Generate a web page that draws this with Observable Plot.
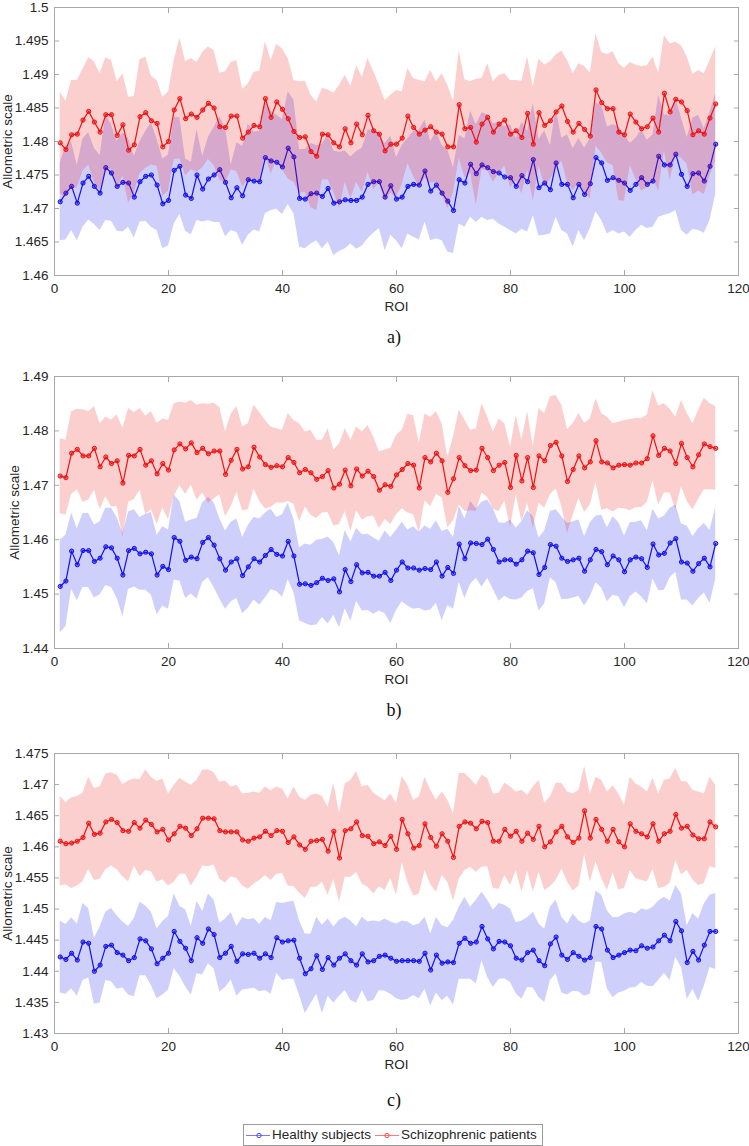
<!DOCTYPE html>
<html><head><meta charset="utf-8">
<script src="https://cdn.jsdelivr.net/npm/d3@7"></script>
<script src="https://cdn.jsdelivr.net/npm/@observablehq/plot@0.6"></script>
<style>
body{margin:0;background:#fff;}
#wrap{position:relative;width:749px;height:1146px;overflow:hidden;font-family:"Liberation Sans",Arial,sans-serif;background:#fff;}
.panel{position:absolute;left:0;}
.cap{position:absolute;left:0;width:788px;text-align:center;font-family:"Liberation Serif","Times New Roman",serif;font-size:18px;line-height:20px;color:#111;}
#legend{position:absolute;left:243px;top:1124px;width:298px;height:20px;border:1px solid #9a9a9a;background:#fff;font-size:13.5px;color:#262626;}
#legend span{position:absolute;top:2px;white-space:nowrap;}
#legend svg{position:absolute;top:0;}
</style></head>
<body><div id="wrap">
<div id="pa" class="panel" style="top:0px"></div>
<div class="cap" style="top:327px">a)</div>
<div id="pb" class="panel" style="top:360px"></div>
<div class="cap" style="top:700px">b)</div>
<div id="pc" class="panel" style="top:735px"></div>
<div class="cap" style="top:1090px">c)</div>
<div id="legend">
<svg width="26" height="20" style="left:2px"><line x1="0" x2="24" y1="10.5" y2="10.5" stroke="#7a7aff" stroke-width="1"/><circle cx="13" cy="10.5" r="2.2" fill="none" stroke="#4a4aff"/></svg>
<span style="left:28px">Healthy subjects</span>
<svg width="26" height="20" style="left:131px"><line x1="0" x2="24" y1="10.5" y2="10.5" stroke="#ff7a7a" stroke-width="1"/><circle cx="12" cy="10.5" r="2.2" fill="none" stroke="#ff4a4a"/></svg>
<span style="left:157px">Schizophrenic patients</span>
</div>
</div>
<script>
const BLUE = "#1010f0", RED = "#f01010";
const roi = d3.range(1, 117);
const xTicks = [0, 20, 40, 60, 80, 100, 120];
const yTicksA = [1.46, 1.465, 1.47, 1.475, 1.48, 1.485, 1.49, 1.495, 1.5];
const yTicksB = [1.44, 1.45, 1.46, 1.47, 1.48, 1.49];
const yTicksC = [1.43, 1.435, 1.44, 1.445, 1.45, 1.455, 1.46, 1.465, 1.47, 1.475];
const seriesNames = ["Healthy subjects", "Schizophrenic patients"];

const healthyA = [
1.4710,1.4723,1.4733,1.4708,1.4738,1.4748,1.4733,1.4723,1.4761,1.4753,1.4733,1.4739,1.4738,1.4717,1.4740,1.4748,1.4750,1.4735,1.4707,1.4712,1.4757,1.4763,1.4720,1.4715,1.4750,1.4729,1.4744,1.4750,1.4758,1.4739,1.4716,1.4731,1.4719,1.4743,1.4741,1.4740,1.4776,
1.4771,1.4769,1.4762,1.4790,1.4777,1.4715,1.4714,1.4722,1.4723,1.4718,1.4730,1.4708,1.4710,1.4713,1.4712,1.4712,1.4717,1.4736,1.4740,1.4740,1.4717,1.4734,1.4714,1.4717,1.4733,1.4736,1.4735,1.4756,1.4726,1.4735,1.4723,1.4711,1.4697,1.4743,1.4738,1.4766,1.4752,1.4765,1.4761,1.4755,1.4753,1.4747,
1.4746,1.4733,1.4749,1.4740,1.4773,1.4731,1.4738,1.4728,1.4768,1.4736,1.4736,1.4716,1.4736,1.4721,1.4737,1.4776,1.4768,1.4742,1.4746,1.4742,1.4738,1.4727,1.4736,1.4746,1.4736,1.4741,1.4778,1.4765,1.4765,1.4781,1.4751,1.4733,1.4752,1.4753,1.4741,1.4763,1.4796];
const healthyASd = [
.0058,.0070,.0066,.0056,.0066,.0065,.0057,.0056,.0079,.0072,.0067,.0074,.0066,.0061,.0060,.0067,.0078,.0068,.0067,.0068,.0080,.0072,.0054,.0054,.0068,.0049,.0062,.0071,.0079,.0081,.0049,.0067,.0074,.0083,.0073,.0075,.0084,
.0074,.0070,.0071,.0084,.0085,.0073,.0074,.0075,.0071,.0078,.0080,.0078,.0074,.0073,.0065,.0073,.0073,.0081,.0077,.0070,.0080,.0074,.0062,.0077,.0071,.0079,.0082,.0076,.0074,.0080,.0071,.0076,.0064,.0066,.0066,.0079,.0073,.0078,.0079,.0071,.0076,.0075,
.0079,.0071,.0080,.0075,.0084,.0072,.0078,.0066,.0081,.0069,.0074,.0073,.0069,.0069,.0067,.0081,.0086,.0080,.0079,.0080,.0073,.0070,.0069,.0071,.0066,.0069,.0091,.0075,.0073,.0084,.0084,.0073,.0083,.0086,.0078,.0081,.0075];
const schizoA = [
1.4798,1.4788,1.4810,1.4811,1.4832,1.4845,1.4829,1.4814,1.4840,1.4840,1.4809,1.4825,1.4787,1.4795,1.4837,1.4843,1.4831,1.4827,1.4792,1.4800,1.4847,1.4864,1.4834,1.4841,1.4836,1.4847,1.4857,1.4850,1.4822,1.4821,1.4838,1.4838,1.4805,1.4814,1.4824,1.4822,1.4864,
1.4836,1.4859,1.4848,1.4834,1.4815,1.4806,1.4807,1.4785,1.4778,1.4811,1.4810,1.4798,1.4792,1.4819,1.4798,1.4826,1.4810,1.4839,1.4816,1.4811,1.4786,1.4796,1.4796,1.4805,1.4838,1.4821,1.4811,1.4817,1.4822,1.4814,1.4811,1.4792,1.4792,1.4855,1.4819,1.4821,1.4799,1.4826,1.4836,1.4814,1.4826,1.4832,
1.4811,1.4816,1.4806,1.4842,1.4796,1.4843,1.4824,1.4831,1.4844,1.4853,1.4830,1.4814,1.4827,1.4818,1.4808,1.4877,1.4858,1.4849,1.4849,1.4814,1.4810,1.4841,1.4829,1.4819,1.4822,1.4835,1.4814,1.4872,1.4844,1.4863,1.4859,1.4846,1.4810,1.4816,1.4811,1.4835,1.4856];
const schizoASd = [
.0076,.0072,.0081,.0080,.0076,.0080,.0090,.0087,.0085,.0081,.0080,.0076,.0079,.0072,.0085,.0083,.0066,.0064,.0074,.0074,.0074,.0090,.0085,.0083,.0082,.0086,.0084,.0086,.0080,.0083,.0080,.0083,.0073,.0072,.0079,.0083,.0085,
.0085,.0086,.0090,.0090,.0076,.0083,.0083,.0084,.0081,.0068,.0067,.0074,.0092,.0080,.0084,.0087,.0086,.0085,.0088,.0073,.0075,.0073,.0080,.0069,.0071,.0073,.0080,.0072,.0084,.0075,.0090,.0092,.0068,.0080,.0073,.0068,.0094,.0068,.0080,.0075,.0073,.0069,
.0080,.0075,.0084,.0084,.0085,.0080,.0090,.0088,.0085,.0082,.0091,.0087,.0089,.0094,.0094,.0084,.0075,.0081,.0085,.0102,.0099,.0077,.0085,.0093,.0091,.0091,.0088,.0086,.0102,.0085,.0084,.0080,.0090,.0090,.0090,.0086,.0085];

const healthyB = [
1.4514,1.4524,1.4579,1.4554,1.4580,1.4580,1.4560,1.4566,1.4587,1.4585,1.4566,1.4535,1.4580,1.4584,1.4574,1.4577,1.4574,1.4535,1.4551,1.4545,1.4604,1.4597,1.4562,1.4568,1.4565,1.4595,1.4604,1.4590,1.4565,1.4544,1.4559,1.4565,1.4534,1.4550,1.4565,1.4559,1.4571,
1.4582,1.4573,1.4570,1.4597,1.4570,1.4518,1.4519,1.4516,1.4521,1.4529,1.4525,1.4528,1.4504,1.4545,1.4523,1.4554,1.4539,1.4540,1.4533,1.4533,1.4540,1.4525,1.4544,1.4559,1.4548,1.4548,1.4544,1.4547,1.4545,1.4559,1.4533,1.4549,1.4538,1.4592,1.4565,1.4594,1.4593,1.4591,1.4601,1.4582,1.4559,1.4563,
1.4563,1.4555,1.4563,1.4579,1.4576,1.4536,1.4549,1.4591,1.4588,1.4566,1.4560,1.4563,1.4566,1.4542,1.4563,1.4582,1.4578,1.4554,1.4570,1.4563,1.4541,1.4563,1.4568,1.4565,1.4549,1.4592,1.4572,1.4575,1.4594,1.4602,1.4559,1.4557,1.4542,1.4556,1.4566,1.4550,1.4593];
const healthyBSd = [
.0085,.0084,.0070,.0066,.0068,.0068,.0067,.0067,.0071,.0073,.0074,.0076,.0071,.0071,.0067,.0070,.0076,.0073,.0073,.0073,.0078,.0073,.0070,.0068,.0074,.0073,.0074,.0078,.0074,.0072,.0073,.0073,.0070,.0076,.0076,.0079,.0078,
.0074,.0068,.0076,.0070,.0067,.0067,.0073,.0074,.0078,.0072,.0080,.0067,.0066,.0072,.0073,.0067,.0070,.0070,.0070,.0064,.0076,.0079,.0074,.0073,.0070,.0076,.0070,.0078,.0074,.0076,.0082,.0070,.0066,.0070,.0073,.0076,.0064,.0078,.0072,.0074,.0072,.0067,
.0073,.0066,.0070,.0074,.0066,.0067,.0067,.0061,.0067,.0076,.0070,.0070,.0070,.0064,.0068,.0061,.0067,.0068,.0072,.0068,.0066,.0068,.0064,.0070,.0067,.0064,.0066,.0068,.0064,.0062,.0070,.0068,.0064,.0064,.0064,.0067,.0066];
const schizoB = [
1.4717,1.4714,1.4759,1.4766,1.4754,1.4754,1.4768,1.4734,1.4752,1.4740,1.4745,1.4704,1.4755,1.4754,1.4766,1.4737,1.4745,1.4721,1.4740,1.4728,1.4765,1.4776,1.4767,1.4778,1.4760,1.4768,1.4758,1.4763,1.4763,1.4720,1.4746,1.4766,1.4730,1.4734,1.4770,1.4752,1.4738,
1.4733,1.4736,1.4734,1.4751,1.4742,1.4723,1.4729,1.4723,1.4711,1.4716,1.4727,1.4695,1.4702,1.4728,1.4699,1.4730,1.4717,1.4726,1.4716,1.4691,1.4701,1.4698,1.4719,1.4729,1.4740,1.4737,1.4695,1.4751,1.4743,1.4759,1.4745,1.4687,1.4712,1.4751,1.4736,1.4727,1.4728,1.4768,1.4751,1.4727,1.4737,1.4742,
1.4696,1.4755,1.4708,1.4751,1.4696,1.4754,1.4745,1.4773,1.4779,1.4754,1.4707,1.4729,1.4754,1.4732,1.4743,1.4782,1.4743,1.4741,1.4732,1.4737,1.4738,1.4737,1.4741,1.4741,1.4749,1.4791,1.4755,1.4768,1.4763,1.4740,1.4777,1.4751,1.4734,1.4756,1.4776,1.4771,1.4768];
const schizoBSd = [
.0069,.0069,.0076,.0074,.0085,.0081,.0077,.0079,.0073,.0080,.0084,.0101,.0086,.0080,.0075,.0090,.0090,.0093,.0082,.0091,.0085,.0077,.0084,.0078,.0087,.0082,.0091,.0088,.0080,.0078,.0085,.0079,.0077,.0079,.0077,.0082,.0081,
.0074,.0068,.0067,.0081,.0077,.0090,.0069,.0078,.0072,.0067,.0077,.0070,.0074,.0076,.0084,.0077,.0081,.0084,.0073,.0070,.0064,.0070,.0073,.0072,.0091,.0091,.0082,.0080,.0082,.0076,.0068,.0065,.0077,.0087,.0084,.0074,.0076,.0082,.0074,.0071,.0085,.0071,
.0074,.0073,.0075,.0084,.0075,.0087,.0087,.0090,.0086,.0093,.0095,.0084,.0078,.0082,.0079,.0077,.0089,.0084,.0081,.0079,.0081,.0084,.0082,.0082,.0080,.0083,.0091,.0082,.0077,.0085,.0079,.0081,.0079,.0082,.0084,.0079,.0077];

const healthyC = [
1.4423,1.4419,1.4429,1.4418,1.4447,1.4445,1.4400,1.4410,1.4440,1.4442,1.4430,1.4426,1.4417,1.4422,1.4452,1.4449,1.4436,1.4412,1.4421,1.4429,1.4464,1.4448,1.4437,1.4417,1.4454,1.4445,1.4468,1.4459,1.4422,1.4429,1.4440,1.4416,1.4428,1.4427,1.4429,1.4421,1.4428,
1.4422,1.4454,1.4447,1.4449,1.4450,1.4421,1.4396,1.4404,1.4425,1.4403,1.4422,1.4410,1.4421,1.4428,1.4417,1.4410,1.4428,1.4415,1.4417,1.4424,1.4426,1.4421,1.4416,1.4417,1.4417,1.4417,1.4416,1.4429,1.4402,1.4426,1.4413,1.4415,1.4414,1.4445,1.4453,1.4445,1.4447,1.4472,1.4452,1.4436,1.4448,1.4447,
1.4441,1.4421,1.4418,1.4430,1.4434,1.4417,1.4409,1.4444,1.4455,1.4426,1.4419,1.4430,1.4424,1.4418,1.4422,1.4472,1.4468,1.4434,1.4422,1.4426,1.4430,1.4434,1.4433,1.4441,1.4437,1.4439,1.4449,1.4458,1.4449,1.4480,1.4465,1.4414,1.4432,1.4418,1.4442,1.4464,1.4464];
const healthyCSd = [
.0058,.0056,.0057,.0058,.0062,.0056,.0053,.0061,.0055,.0059,.0059,.0053,.0055,.0063,.0059,.0056,.0059,.0056,.0059,.0059,.0060,.0056,.0062,.0055,.0058,.0051,.0056,.0055,.0055,.0055,.0054,.0056,.0058,.0056,.0056,.0054,.0059,
.0059,.0057,.0062,.0062,.0063,.0060,.0064,.0056,.0062,.0071,.0062,.0061,.0061,.0059,.0064,.0061,.0059,.0064,.0064,.0055,.0058,.0058,.0060,.0064,.0062,.0056,.0060,.0058,.0058,.0061,.0060,.0055,.0068,.0058,.0066,.0058,.0067,.0055,.0062,.0062,.0061,.0059,
.0059,.0057,.0063,.0056,.0061,.0059,.0059,.0059,.0059,.0061,.0057,.0062,.0057,.0058,.0059,.0057,.0054,.0063,.0064,.0061,.0062,.0061,.0059,.0059,.0061,.0064,.0064,.0061,.0064,.0058,.0059,.0059,.0061,.0066,.0066,.0058,.0061];
const schizoC = [
1.4609,1.4605,1.4606,1.4609,1.4615,1.4638,1.4620,1.4622,1.4640,1.4644,1.4639,1.4626,1.4625,1.4639,1.4630,1.4643,1.4636,1.4624,1.4628,1.4611,1.4621,1.4633,1.4630,1.4618,1.4629,1.4646,1.4646,1.4645,1.4626,1.4624,1.4624,1.4624,1.4611,1.4609,1.4614,1.4616,1.4625,
1.4618,1.4626,1.4625,1.4607,1.4616,1.4603,1.4596,1.4609,1.4610,1.4612,1.4593,1.4625,1.4582,1.4626,1.4629,1.4640,1.4618,1.4617,1.4605,1.4608,1.4602,1.4617,1.4596,1.4644,1.4621,1.4598,1.4602,1.4637,1.4615,1.4601,1.4621,1.4609,1.4583,1.4633,1.4640,1.4638,1.4629,1.4641,1.4639,1.4609,1.4609,1.4628,
1.4617,1.4625,1.4609,1.4622,1.4612,1.4633,1.4600,1.4608,1.4624,1.4633,1.4616,1.4607,1.4614,1.4658,1.4614,1.4644,1.4628,1.4609,1.4628,1.4608,1.4600,1.4637,1.4625,1.4621,1.4616,1.4637,1.4609,1.4621,1.4625,1.4652,1.4630,1.4633,1.4619,1.4613,1.4613,1.4640,1.4632];
const schizoCSd = [
.0072,.0066,.0073,.0072,.0071,.0074,.0074,.0074,.0077,.0075,.0076,.0074,.0081,.0070,.0078,.0081,.0076,.0081,.0081,.0074,.0078,.0077,.0074,.0081,.0078,.0077,.0078,.0074,.0078,.0082,.0072,.0075,.0074,.0077,.0074,.0070,.0071,
.0072,.0070,.0068,.0070,.0080,.0077,.0079,.0074,.0075,.0069,.0071,.0077,.0071,.0075,.0078,.0081,.0078,.0082,.0081,.0072,.0072,.0068,.0074,.0069,.0078,.0077,.0078,.0075,.0076,.0074,.0067,.0066,.0070,.0085,.0078,.0071,.0070,.0074,.0071,.0076,.0077,.0074,
.0079,.0063,.0082,.0061,.0084,.0074,.0070,.0072,.0078,.0069,.0072,.0078,.0077,.0071,.0071,.0068,.0079,.0079,.0070,.0077,.0067,.0075,.0076,.0075,.0072,.0073,.0076,.0086,.0084,.0074,.0075,.0071,.0072,.0075,.0072,.0072,.0067];

const arrs = {healthyA, healthyASd, schizoA, schizoASd, healthyB, healthyBSd, schizoB, schizoBSd, healthyC, healthyCSd, schizoC, schizoCSd};
for (const [k, v] of Object.entries(arrs)) if (v.length !== 116) console.error("length", k, v.length);

const fmt = d => String(+d.toFixed(3));
const FS = 13.5;

function panel(el, {height, marginTop, yDomain, yTicks, h, hs, s, ss, labelOffset}) {
  const rows = roi.map((r, i) => ({roi: r, h: h[i], hs: hs[i], s: s[i], ss: ss[i]}));
  const frameColor = "#a8a8a8";
  const chart = Plot.plot({
    width: 749, height, marginTop, marginBottom: 40, marginLeft: 54, marginRight: 11,
    style: {fontFamily: '"Liberation Sans", Arial, sans-serif', fontSize: "13.5px", color: "#262626", background: "transparent", overflow: "visible"},
    x: {domain: [0, 120]},
    y: {domain: yDomain},
    marks: [
      Plot.areaY(rows, {x: "roi", y1: d => d.h - d.hs, y2: d => d.h + d.hs, fill: BLUE, fillOpacity: 0.2}),
      Plot.line(rows, {x: "roi", y: "h", stroke: BLUE, strokeWidth: 1.2}),
      Plot.dot(rows, {x: "roi", y: "h", r: 2.1, stroke: BLUE, fill: BLUE, fillOpacity: 0.5, strokeWidth: 1}),
      Plot.areaY(rows, {x: "roi", y1: d => d.s - d.ss, y2: d => d.s + d.ss, fill: RED, fillOpacity: 0.2}),
      Plot.line(rows, {x: "roi", y: "s", stroke: RED, strokeWidth: 1.2}),
      Plot.dot(rows, {x: "roi", y: "s", r: 2.1, stroke: RED, fill: RED, fillOpacity: 0.5, strokeWidth: 1}),
      Plot.frame({stroke: frameColor}),
      Plot.axisX(xTicks, {anchor: "bottom", tickSize: -5, tickPadding: 13, stroke: frameColor, fill: "#262626", fontSize: FS,
        label: "ROI", labelAnchor: "center", labelOffset: 35, labelArrow: "none"}),
      Plot.axisX(xTicks, {anchor: "top", tickSize: -5, stroke: frameColor, tickFormat: () => "", label: null}),
      Plot.axisY(yTicks, {anchor: "left", tickSize: -5, tickPadding: 11, stroke: frameColor, fill: "#262626", fontSize: FS, tickFormat: fmt,
        label: "Allometric scale", labelAnchor: "center", labelOffset, labelArrow: "none"}),
      Plot.axisY(yTicks, {anchor: "right", tickSize: -5, stroke: frameColor, tickFormat: () => "", label: null})
    ]
  });
  document.getElementById(el).appendChild(chart);
}

panel("pa", {height: 315, marginTop: 7, yDomain: [1.46, 1.5], yTicks: yTicksA, h: healthyA, hs: healthyASd, s: schizoA, ss: schizoASd, labelOffset: 52});
panel("pb", {height: 328, marginTop: 16, yDomain: [1.44, 1.49], yTicks: yTicksB, h: healthyB, hs: healthyBSd, s: schizoB, ss: schizoBSd, labelOffset: 45});
panel("pc", {height: 338, marginTop: 18, yDomain: [1.43, 1.475], yTicks: yTicksC, h: healthyC, hs: healthyCSd, s: schizoC, ss: schizoCSd, labelOffset: 52});
</script>
</body></html>
